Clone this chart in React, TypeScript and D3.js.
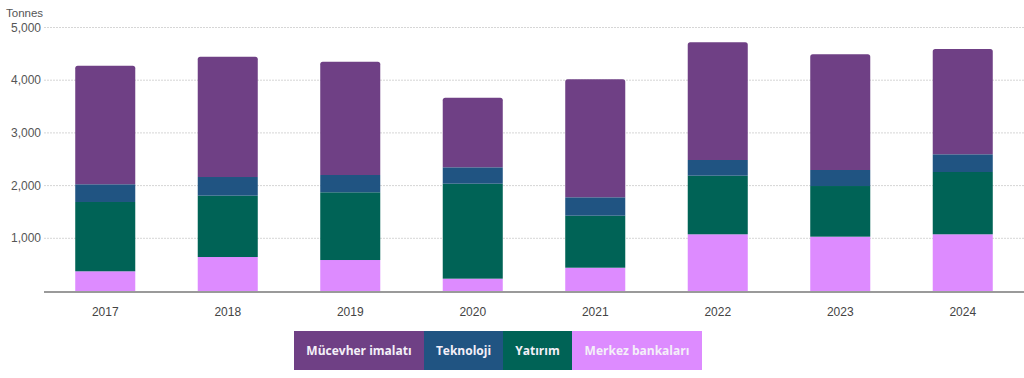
import React from "react";
import * as d3 from "d3";

const years = ["2017", "2018", "2019", "2020", "2021", "2022", "2023", "2024"];
const centralBanks = [374, 645, 588, 234, 442, 1076, 1031, 1076];
const investment = [1315, 1164, 1285, 1802, 987, 1112, 961, 1182];
const technology = [336, 354, 328, 311, 349, 298, 304, 336];
const jewellery = [2250, 2283, 2150, 1321, 2239, 2233, 2195, 1998];
const yTicks = [1000, 2000, 3000, 4000, 5000];

const seriesNames = ["Mücevher imalatı", "Teknoloji", "Yatırım", "Merkez bankaları"];
const seriesColors = ["#6f4085", "#205482", "#006356", "#dd8bff"];

const W = 1024;
const H = 378;
const left = 44;
const right = 1024;
const top = 27.5;
const bottom = 291;

export default function App() {
  const x = d3.scaleBand<string>().domain(years).range([left, right]).paddingInner(0.51).paddingOuter(0.255);
  const y = d3.scaleLinear().domain([0, 5000]).range([bottom, top]);

  const rows = years.map((yr, i) => ({
    year: yr,
    cb: centralBanks[i],
    inv: investment[i],
    tech: technology[i],
    jew: jewellery[i],
  }));
  const keys = ["cb", "inv", "tech", "jew"];
  const keyColor: Record<string, string> = {
    cb: seriesColors[3],
    inv: seriesColors[2],
    tech: seriesColors[1],
    jew: seriesColors[0],
  };
  const stack = d3.stack<any>().keys(keys)(rows);

  const legendX = [294, 424, 503, 572, 702];

  const fmt = d3.format(",");

  return (
    <svg width={W} height={H} style={{ position: "absolute", left: 0, top: 0 }}>
      <text x={6} y={17} fontFamily="Arial, Liberation Sans, sans-serif" fontSize={11.5} fill="#555">
        Tonnes
      </text>
      {yTicks.map((t) => (
        <g key={t}>
          <line x1={left} x2={right} y1={y(t)} y2={y(t)} stroke="#d6d6d6" strokeWidth={1} strokeDasharray="2,1" />
          <text
            x={41}
            y={y(t) + 4}
            textAnchor="end"
            fontFamily="Arial, Liberation Sans, sans-serif"
            fontSize={12}
            fill="#555"
          >
            {fmt(t)}
          </text>
        </g>
      ))}
      {stack.map((layer) =>
        layer.map((d, i) => {
          const x0 = x(years[i])!;
          const bw = x.bandwidth();
          const y0 = y(d[0]);
          const y1 = y(d[1]);
          const isTop = layer.key === "jew";
          if (isTop) {
            const r = 2.5;
            const p = `M${x0},${y0} L${x0},${y1 + r} Q${x0},${y1} ${x0 + r},${y1} L${x0 + bw - r},${y1} Q${x0 + bw},${y1} ${x0 + bw},${y1 + r} L${x0 + bw},${y0} Z`;
            return <path key={layer.key + i} d={p} fill={keyColor[layer.key]} />;
          }
          return (
            <rect key={layer.key + i} x={x0} y={y1} width={bw} height={y0 - y1} fill={keyColor[layer.key]} />
          );
        })
      )}
      <line x1={left} x2={right} y1={bottom + 1} y2={bottom + 1} stroke="#9a9a9a" strokeWidth={2} />
      {years.map((yr) => (
        <text
          key={yr}
          x={x(yr)! + x.bandwidth() / 2}
          y={316}
          textAnchor="middle"
          fontFamily="Arial, Liberation Sans, sans-serif"
          fontSize={12}
          fill="#444"
        >
          {yr}
        </text>
      ))}
      {seriesNames.map((n, i) => (
        <g key={n}>
          <rect
            x={legendX[i]}
            y={331}
            width={legendX[i + 1] - legendX[i]}
            height={39}
            fill={seriesColors[i]}
          />
          <text
            x={(legendX[i] + legendX[i + 1]) / 2}
            y={355}
            textAnchor="middle"
            fontFamily="Open Sans, sans-serif"
            fontWeight="bold"
            fontSize={12}
            fill="#f4f0f8"
          >
            {n}
          </text>
        </g>
      ))}
    </svg>
  );
}
